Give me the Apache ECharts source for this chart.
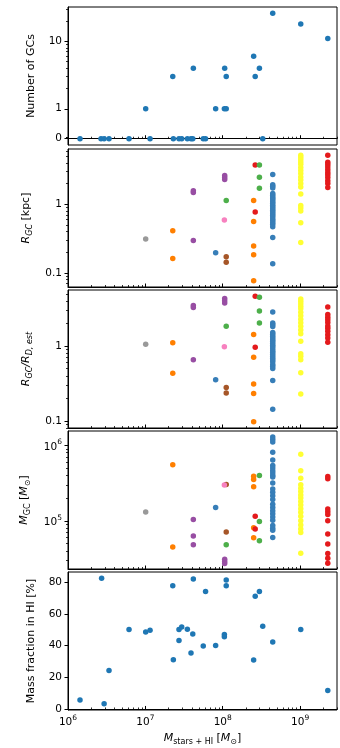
<!DOCTYPE html>
<html>
<head>
<meta charset="utf-8">
<script src="https://cdn.jsdelivr.net/npm/echarts@6/dist/echarts.min.js"></script>
<style>
  html, body { margin: 0; padding: 0; background: #fff; }
  #chart { width: 340px; height: 748px; }
</style>
</head>
<body>
<div id="chart"></div>
<script>
const FONT = 'DejaVu Sans'

// panel 1: number of GCs per galaxy
const nMass = [1.43e6, 2.67e6, 2.93e6, 3.39e6, 6.15e6, 1.15e7, 2.30e7, 2.72e7, 2.95e7, 3.49e7,
  3.89e7, 4.1e7, 5.6e7, 6.0e7, 3.29e8,
  1.01e7, 8.1e7, 1.05e8, 1.11e8,
  2.26e7, 1.11e8, 2.63e8,
  4.17e7, 1.06e8, 2.98e8,
  2.51e8, 4.43e8, 1.02e9, 2.28e9]
const nCount = [0, 0, 0, 0, 0, 0, 0, 0, 0, 0,
  0, 0, 0, 0, 0,
  1, 1, 1, 1,
  3, 3, 3,
  4, 4, 4,
  6, 26, 18, 11]

// panels 2-4: galaxies hosting GCs
const galaxyMass = [1.01e7, 2.26e7, 4.17e7, 8.1e7, 1.11e8, 1.05e8, 1.06e8, 1.11e8, 2.51e8, 2.63e8, 2.98e8, 4.43e8, 1.02e9, 2.28e9]
const galaxyColor = ['#999999', '#ff7f00', '#984ea3', '#377eb8', '#a65628', '#f781bf', '#984ea3', '#4daf4a', '#ff7f00', '#e41a1c', '#4daf4a', '#377eb8', '#ffff33', '#e41a1c']

const rGC = [
  [0.31],
  [0.41, 0.162],
  [1.57, 1.49, 0.296],
  [0.196],
  [0.171, 0.143],
  [0.59],
  [2.62, 2.45, 2.3],
  [1.13],
  [1.13, 0.56, 0.245, 0.183, 0.0765],
  [3.73, 0.77],
  [3.73, 2.47, 1.71],
  [2.71, 1.93, 1.83, 1.73, 1.43, 1.35, 1.28, 1.21, 1.15, 1.09, 1.03, 0.97, 0.92, 0.87, 0.82, 0.78, 0.73, 0.69, 0.65, 0.61, 0.58, 0.54, 0.51, 0.47, 0.327, 0.135],
  [5.2, 4.85, 4.5, 4.15, 3.85, 3.45, 3.1, 2.8, 2.5, 2.25, 2.0, 1.79, 1.41, 0.96, 0.885, 0.8, 0.535, 0.277],
  [5.2, 4.1, 3.8, 3.5, 3.2, 2.9, 2.7, 2.45, 2.2, 2.0, 1.75],
]

const rRatio = [
  [1.06],
  [1.11, 0.435],
  [3.5, 3.3, 0.656],
  [0.354],
  [0.28, 0.235],
  [0.98],
  [4.35, 4.05, 3.78],
  [1.85],
  [1.43, 0.71, 0.31, 0.232, 0.097],
  [4.67, 0.97],
  [4.53, 2.97, 2.05],
  [2.88, 2.05, 1.95, 1.84, 1.52, 1.44, 1.36, 1.29, 1.22, 1.16, 1.09, 1.03, 0.98, 0.92, 0.87, 0.83, 0.78, 0.73, 0.69, 0.65, 0.62, 0.57, 0.54, 0.5, 0.347, 0.143],
  [4.28, 3.99, 3.7, 3.42, 3.17, 2.84, 2.55, 2.3, 2.06, 1.85, 1.65, 1.47, 1.16, 0.79, 0.73, 0.66, 0.44, 0.228],
  [3.36, 2.65, 2.45, 2.26, 2.07, 1.87, 1.74, 1.58, 1.42, 1.29, 1.13],
]

const mGC = [
  [1.31e5],
  [5.52e5, 4.51e4],
  [1.04e5, 6.3e4, 4.83e4],
  [1.5e5],
  [3.04e5, 7.1e4],
  [2.98e5],
  [3.1e4, 2.9e4, 2.72e4],
  [4.83e4],
  [3.9e5, 3.54e5, 2.83e5, 8.1e4, 5.97e4],
  [1.15e5, 7.8e4],
  [3.99e5, 9.8e4, 5.46e4],
  [1.29e6, 1.2e6, 1.11e6, 8.1e5, 6.4e5, 5.4e5, 5.0e5, 4.6e5, 4.3e5, 4.0e5, 3.8e5, 3.16e5, 2.65e5, 2.4e5, 2.15e5, 1.92e5, 1.66e5, 1.5e5, 1.36e5, 1.24e5, 1.12e5, 1.02e5, 8.7e4, 8.0e4, 7.5e4, 6.0e4],
  [7.6e5, 4.6e5, 3.68e5, 3.0e5, 2.7e5, 2.45e5, 2.2e5, 2.0e5, 1.8e5, 1.62e5, 1.45e5, 1.3e5, 1.15e5, 1.0e5, 8.8e4, 7.8e4, 7.0e4, 3.72e4],
  [3.87e5, 3.61e5, 1.44e5, 1.32e5, 1.21e5, 1.0e5, 6.68e4, 4.93e4, 3.68e4, 3.2e4, 2.75e4],
]

// panel 5: HI mass fraction
const fMass = [1.43e6, 2.72e6, 2.93e6, 3.39e6, 6.15e6, 1.01e7, 1.15e7, 2.26e7, 2.30e7, 2.72e7,
  2.72e7, 2.95e7, 3.49e7, 3.89e7, 4.1e7, 4.17e7, 5.6e7, 6.0e7, 8.1e7, 1.05e8,
  1.05e8, 1.11e8, 1.11e8, 2.51e8, 2.63e8, 2.98e8, 3.29e8, 4.43e8, 1.02e9, 2.28e9]
const fHI = [5.9, 82.4, 3.6, 24.5, 50.2, 48.7, 49.8, 77.7, 31.2, 50.2,
  43.3, 51.8, 50.4, 35.5, 47.3, 81.9, 39.9, 74, 40.2, 47,
  45.6, 81.3, 77.7, 31, 71, 74, 52.3, 42.4, 50.2, 11.9]

// ticks
const xMajor = [1e6, 1e7, 1e8, 1e9]
const xMinor = []
for (let e = 6; e <= 9; e++) for (let k = 2; k <= 9; k++) if (k * Math.pow(10, e) <= 3e9) xMinor.push(k * Math.pow(10, e))
const nMajor = [0, 1, 10]
const nMinor = [0.02, 0.04, 0.06, 2, 3, 4, 5, 6, 7, 8, 9, 20, 30]
const rMajor = [0.1, 1]
const rMinor = [0.07, 0.08, 0.09, 0.2, 0.3, 0.4, 0.5, 0.6, 0.7, 0.8, 0.9, 2, 3, 4, 5, 6]
const mMajor = [1e5, 1e6]
const mMinor = [3e4, 4e4, 5e4, 6e4, 7e4, 8e4, 9e4, 2e5, 3e5, 4e5, 5e5, 6e5, 7e5, 8e5, 9e5]
const fMajor = [0, 20, 40, 60, 80]

// symlog (linthresh 1, linscale 0.4)
const LIN = 0.4 / 0.9
const symlog = (v) => (v <= 1 ? v * LIN : LIN + Math.log10(v))
const unsymlog = (t) => (t <= LIN + 1e-9 ? t / LIN : Math.pow(10, t - LIN))

const tops = [7, 149, 290, 431, 572]
const H = 138

const supRich = {
  b: { fontFamily: FONT, fontSize: 10.5, color: '#000', lineHeight: 14, verticalAlign: 'bottom' },
  p: { fontFamily: FONT, fontSize: 7.5, color: '#000', lineHeight: 14, verticalAlign: 'top' },
}
const nameRich = {
  i: { fontFamily: FONT, fontSize: 11, fontStyle: 'italic', color: '#000', lineHeight: 16, verticalAlign: 'middle' },
  s: { fontFamily: FONT, fontSize: 8, fontStyle: 'italic', color: '#000', lineHeight: 16, verticalAlign: 'bottom' },
  r: { fontFamily: FONT, fontSize: 8, color: '#000', lineHeight: 16, verticalAlign: 'bottom' },
  n: { fontFamily: FONT, fontSize: 11, color: '#000', lineHeight: 16, verticalAlign: 'middle' },
}
const powLabel = (v) => '{b|10}{p|' + Math.round(Math.log10(v)) + '}'

const grids = tops.map((t) => ({
  left: 68, right: 3, top: t, height: H,
  show: true, borderColor: '#000', borderWidth: 1, backgroundColor: 'transparent',
}))

const xAxes = []
const yAxes = []
tops.forEach((t, i) => {
  const last = i === 4
  xAxes.push({
    type: 'log', gridIndex: i, position: 'bottom', min: 1e6, max: 3e9,
    axisLine: { show: true, lineStyle: { color: '#000', width: 1 } },
    axisTick: { show: true, inside: true, length: 3.5, customValues: xMajor, lineStyle: { color: '#000', width: 1 } },
    axisLabel: { show: last, customValues: xMajor, formatter: powLabel, rich: supRich, margin: 4 },
    splitLine: { show: false },
    name: last ? '{i|M}{r|stars + HI}{n| [}{i|M}{r|\u2299}{n|]}' : '',
    nameLocation: 'middle', nameGap: 20,
    nameTextStyle: { rich: nameRich },
  })
  xAxes.push({
    type: 'log', gridIndex: i, position: 'bottom', min: 1e6, max: 3e9,
    axisLine: { show: false },
    axisTick: { show: true, inside: true, length: 2, customValues: xMinor, lineStyle: { color: '#000', width: 0.8 } },
    axisLabel: { show: false },
    splitLine: { show: false },
  })
})

function yPair(i, cfg) {
  const base = {
    gridIndex: i, position: 'left', type: cfg.type, min: cfg.min, max: cfg.max,
    splitLine: { show: false },
  }
  yAxes.push(Object.assign({}, base, {
    axisLine: { show: true, lineStyle: { color: '#000', width: 1 } },
    axisTick: { show: true, inside: false, length: 3.5, customValues: cfg.major, lineStyle: { color: '#000', width: 1 } },
    axisLabel: {
      show: true, customValues: cfg.major, formatter: cfg.formatter, rich: cfg.rich,
      fontFamily: FONT, fontSize: 10.5, color: '#000', margin: 6,
    },
    name: cfg.name, nameLocation: 'middle', nameRotate: 90, nameGap: cfg.nameGap,
    nameTextStyle: { fontFamily: FONT, fontSize: 11, color: '#000', rich: nameRich },
  }))
  yAxes.push(Object.assign({}, base, {
    axisLine: { show: false },
    axisTick: { show: true, inside: false, length: 2, customValues: cfg.minor, lineStyle: { color: '#000', width: 0.8 } },
    axisLabel: { show: false },
  }))
}

yPair(0, {
  type: 'value', min: -0.093, max: 1.953,
  major: nMajor.map(symlog), minor: nMinor.map(symlog),
  formatter: (t) => String(Math.round(unsymlog(t))),
  name: 'Number of GCs', nameGap: 31,
})
yPair(1, {
  type: 'log', min: 0.062, max: 6.4, major: rMajor, minor: rMinor,
  formatter: (v) => String(v),
  name: '{i|R}{s|GC}{n| [kpc]}', nameGap: 34,
})
yPair(2, {
  type: 'log', min: 0.080, max: 5.66, major: rMajor, minor: rMinor,
  formatter: (v) => String(v),
  name: '{i|R}{s|GC}{i|/R}{s|D, est}', nameGap: 34,
})
yPair(3, {
  type: 'log', min: 2.3e4, max: 1.55e6, major: mMajor, minor: mMinor,
  formatter: powLabel, rich: supRich,
  name: '{i|M}{r|GC}{n| [}{i|M}{r|\u2299}{n|]}', nameGap: 36,
})
yPair(4, {
  type: 'value', min: -0.34, max: 86.3, major: fMajor, minor: [],
  formatter: (v) => String(v),
  name: 'Mass fraction in HI [%]', nameGap: 31,
})

const series = []
const dot = 5.5
series.push({
  type: 'scatter', xAxisIndex: 0, yAxisIndex: 0, symbolSize: dot,
  itemStyle: { color: '#1f77b4', opacity: 1 },
  data: nMass.map((m, k) => [m, symlog(nCount[k])]),
})
;[rGC, rRatio, mGC].forEach((vals, p) => {
  const idx = (p + 1) * 2
  vals.forEach((list, g) => {
    series.push({
      type: 'scatter', xAxisIndex: idx, yAxisIndex: idx, symbolSize: dot,
      itemStyle: { color: galaxyColor[g], opacity: 1 },
      data: list.map((v) => [galaxyMass[g], v]),
    })
  })
})
series.push({
  type: 'scatter', xAxisIndex: 8, yAxisIndex: 8, symbolSize: dot,
  itemStyle: { color: '#1f77b4', opacity: 1 },
  data: fMass.map((m, k) => [m, fHI[k]]),
})

const chart = echarts.init(document.getElementById('chart'), null, { renderer: 'canvas' })
chart.setOption({
  backgroundColor: '#fff',
  animation: false,
  textStyle: { fontFamily: FONT },
  grid: grids,
  xAxis: xAxes,
  yAxis: yAxes,
  series: series,
})
</script>
</body>
</html>
